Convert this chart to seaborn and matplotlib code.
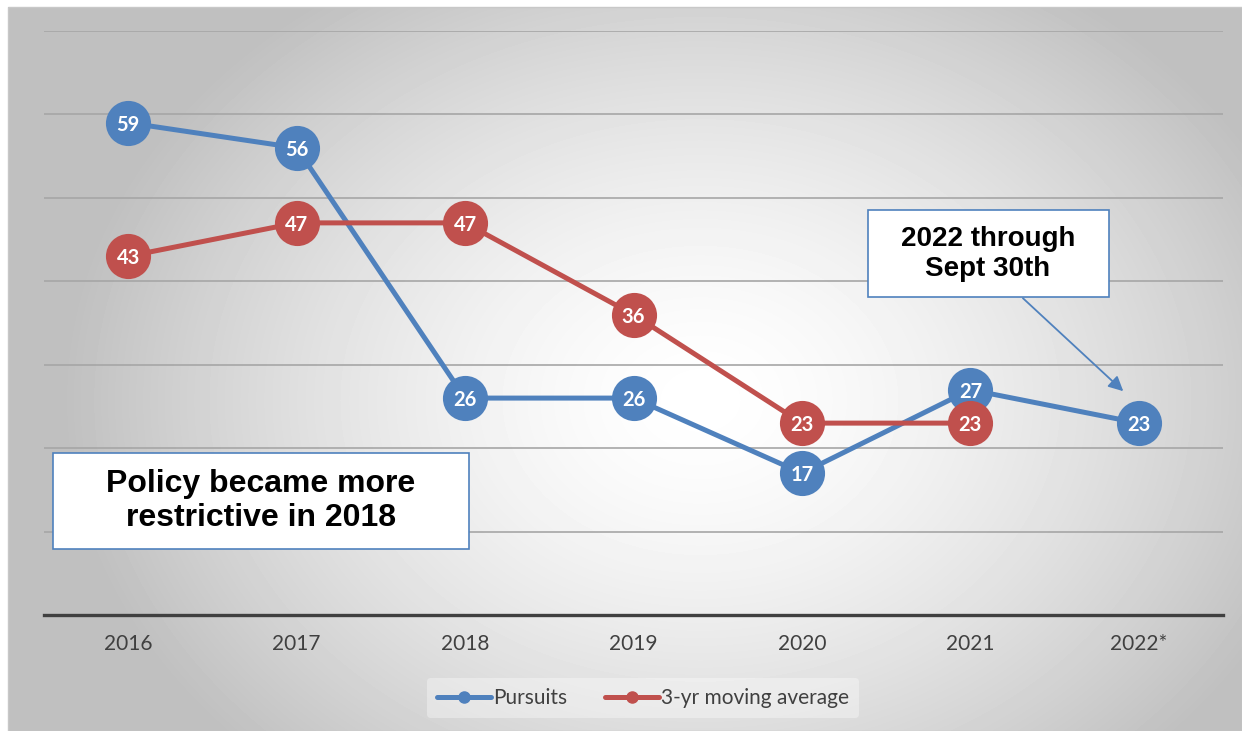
import numpy as np
import pandas as pd
import matplotlib
import matplotlib.pyplot as plt
import seaborn as sns
from matplotlib.patches import Rectangle

matplotlib.use('Agg')

# Chart data
years = ['2016', '2017', '2018', '2019', '2020', '2021', '2022*']
pursuits = [59, 56, 26, 26, 17, 27, 23]
moving_avg = [43, 47, 47, 36, 23, 23, np.nan]

BLUE = '#4F81BD'
RED = '#C0504D'
W, H = 1242, 731

sns.set_theme(style='white')
plt.rcParams['font.family'] = ['Lato', 'DejaVu Sans']

fig = plt.figure(figsize=(12.42, 7.31), dpi=100)


def fig_box(x0, y0, x1, y1):
    """Pixel box (top-left origin) -> figure-fraction rectangle."""
    return Rectangle((x0 / W, 1 - y1 / H), (x1 - x0) / W, (y1 - y0) / H,
                     transform=fig.transFigure, facecolor='white',
                     edgecolor=BLUE, linewidth=1.2, zorder=8)


# Radial grey gradient background
bg = fig.add_axes([0, 0, 1, 1], zorder=-10)
yy, xx = np.mgrid[0:H, 0:W]
d = np.sqrt(((xx - 700) / 640.0) ** 2 + ((yy - 400) / 500.0) ** 2)
shade = 1.0 - 0.25 * np.clip(d, 0, 1) ** 1.5
bg.imshow(shade, cmap='gray', vmin=0, vmax=1, extent=[0, W, H, 0], aspect='auto')
bg.add_patch(Rectangle((0, 0), W, 6.5, facecolor='white', edgecolor='none'))
bg.add_patch(Rectangle((0, 0), 8, H, facecolor='white', edgecolor='none'))
bg.add_patch(Rectangle((8, 6.5), W - 8, H - 6.5, facecolor='none', edgecolor='#c8c8c8', lw=1))
bg.set_xlim(0, W)
bg.set_ylim(H, 0)
bg.axis('off')

ax = fig.add_axes([44 / W, (H - 615) / H, (1223 - 44) / W, (615 - 31) / H])
ax.patch.set_alpha(0)

df = pd.DataFrame({
    'x': list(range(len(years))) * 2,
    'value': pursuits + moving_avg,
    'series': ['Pursuits'] * len(years) + ['3-yr moving average'] * len(years),
})

sns.lineplot(data=df, x='x', y='value', hue='series',
             palette={'Pursuits': BLUE, '3-yr moving average': RED},
             linewidth=3.6, marker='o', markersize=32.5, markeredgewidth=0,
             ax=ax, legend=False, zorder=3)

for i, v in enumerate(pursuits):
    ax.text(i, v, str(v), color='white', fontsize=14.5, fontweight='bold',
            ha='center', va='center_baseline', zorder=6)
for i, v in enumerate(moving_avg):
    if not np.isnan(v):
        ax.text(i, v, str(int(v)), color='white', fontsize=14.5, fontweight='bold',
                ha='center', va='center_baseline', zorder=6)

ax.set_xlim(-0.5, len(years) - 0.5)
ax.set_ylim(0, 70)
ax.set_yticks(range(10, 71, 10))
ax.yaxis.grid(True, color='#a6a6a6', linewidth=1.2)
ax.set_axisbelow(True)
ax.tick_params(axis='y', left=False, labelleft=False)
ax.set_xticks(range(len(years)))
ax.set_xticklabels(years, fontsize=15, color='#404040')
ax.tick_params(axis='x', length=0, pad=14)
ax.set_xlabel('')
ax.set_ylabel('')
for s in ['top', 'right', 'left']:
    ax.spines[s].set_visible(False)
ax.spines['bottom'].set_color('#404040')
ax.spines['bottom'].set_linewidth(2.4)

# Legend
handles = [
    plt.Line2D([], [], color=BLUE, lw=3.6, marker='o', markersize=8, label='Pursuits'),
    plt.Line2D([], [], color=RED, lw=3.6, marker='o', markersize=8, label='3-yr moving average'),
]
leg = fig.legend(handles=handles, loc='center', bbox_to_anchor=(643 / W, 1 - 698 / H),
                 ncol=2, frameon=True, fontsize=15, handlelength=2.6, handletextpad=0.1,
                 columnspacing=1.8, borderpad=0.5)
leg.get_frame().set_facecolor('white')
leg.get_frame().set_alpha(0.35)
leg.get_frame().set_edgecolor('none')
for t in leg.get_texts():
    t.set_color('#404040')

# Annotation boxes
fig.add_artist(fig_box(53, 453, 469, 549))
fig.text(261 / W, 1 - 501 / H, 'Policy became more\nrestrictive in 2018',
         family=['Liberation Sans', 'DejaVu Sans'], fontsize=23, fontweight='bold',
         color='black', ha='center', va='center', linespacing=1.15, zorder=9)
fig.add_artist(fig_box(868, 210, 1109, 297))
fig.text(988 / W, 1 - 254 / H, '2022 through\nSept 30th',
         family=['Liberation Sans', 'DejaVu Sans'], fontsize=20, fontweight='bold',
         color='black', ha='center', va='center', linespacing=1.15, zorder=9)

ax.annotate('', xy=(5.92, 26.6), xytext=(5.3, 38.2),
            arrowprops=dict(arrowstyle='-|>', color=BLUE, lw=1.3, mutation_scale=22),
            zorder=5)

fig.savefig('out.png', dpi=100)
